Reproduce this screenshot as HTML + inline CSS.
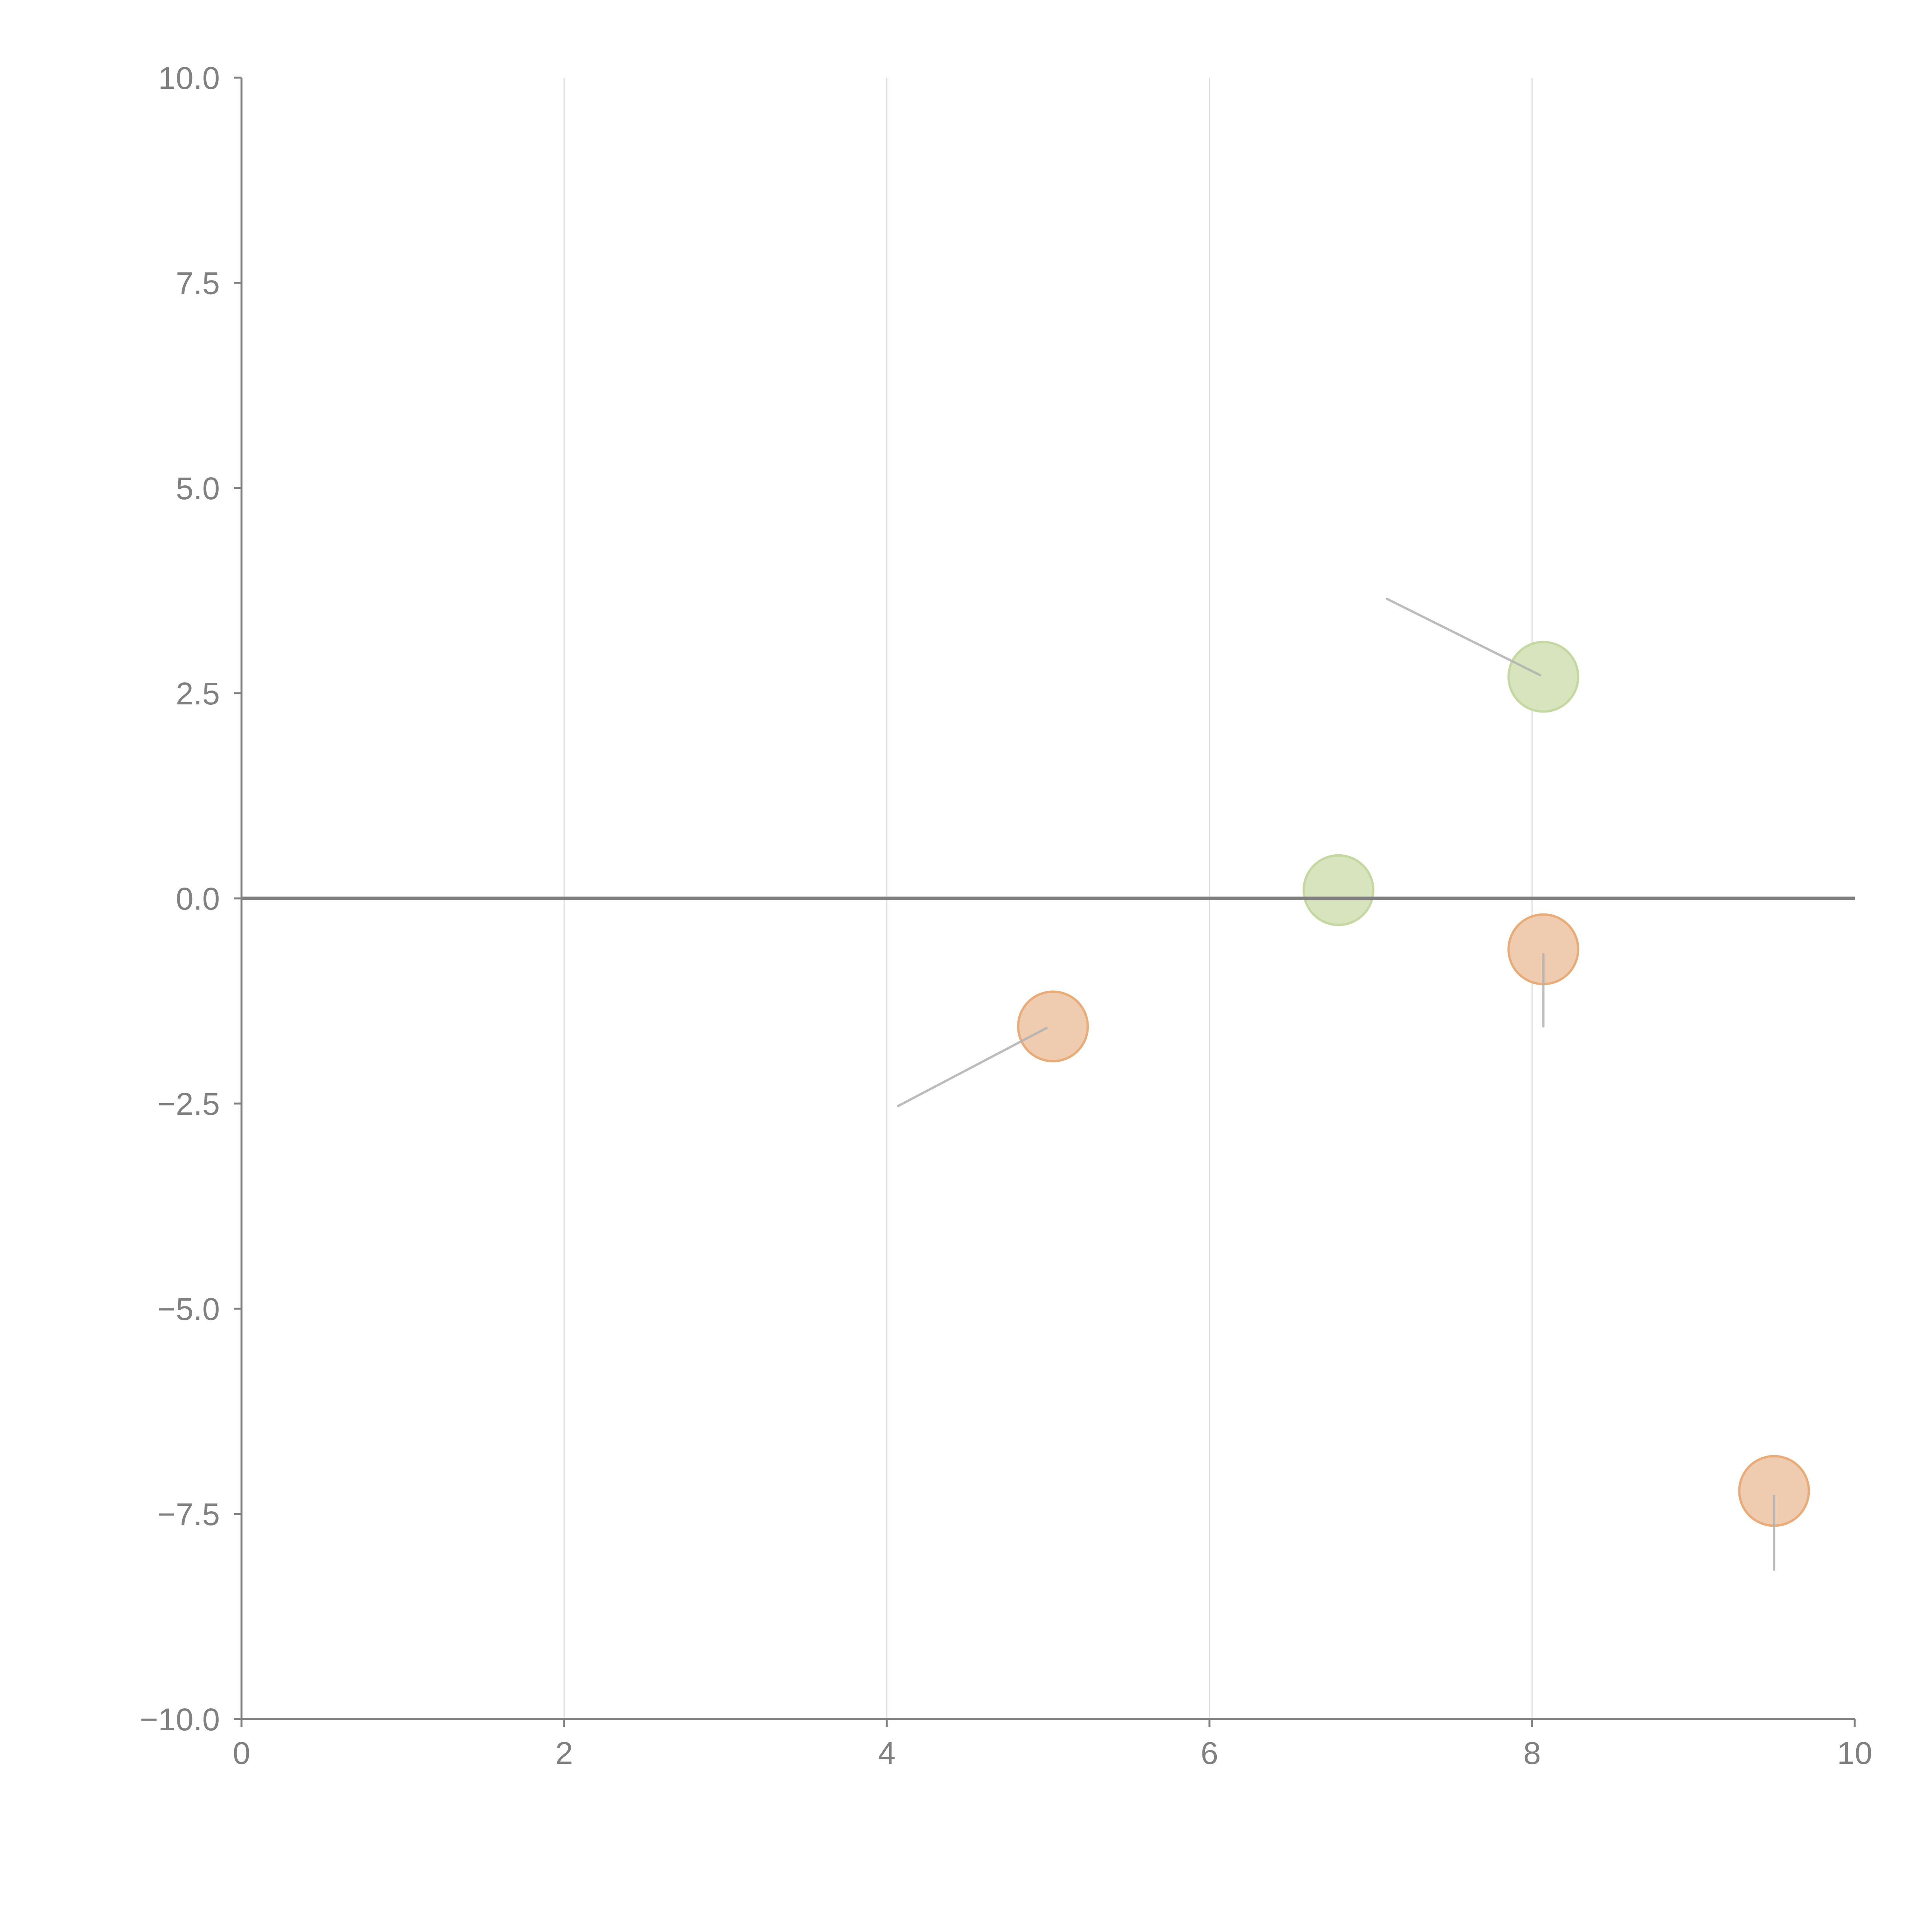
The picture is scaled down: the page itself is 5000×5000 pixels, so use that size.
<!DOCTYPE html>
<html><head><meta charset="utf-8"><style>
html,body{margin:0;padding:0;background:#fff;}
svg{display:block;font-family:"Liberation Sans",sans-serif;}
</style></head><body>
<svg id="chart" width="5000" height="5000" viewBox="0 0 5000 5000" xmlns="http://www.w3.org/2000/svg"></svg>
<script>
const xTicks=[0,2,4,6,8,10];
const yTicks=[10,7.5,5,2.5,0,-2.5,-5,-7.5,-10];
const yTickLabels=["10.0","7.5","5.0","2.5","0.0","\u22122.5","\u22125.0","\u22127.5","\u221210.0"];
const pointX=[8.07,6.8,5.03,8.07,9.5];
const pointY=[2.7,0.1,-1.56,-0.62,-7.22];
const pointGroup=["green","green","orange","orange","orange"];
const lineX1=[7.1,4.07,8.07,9.5];
const lineY1=[3.65,-2.53,-0.68,-7.28];
const lineX2=[8.05,4.99,8.07,9.5];
const lineY2=[2.72,-1.58,-1.56,-8.18];

const L=625,R=4800,T=201,B=4449;
const sx=v=>L+(v-0)/(10-0)*(R-L);
const sy=v=>B-(v+10)/20*(B-T);
const svg=document.getElementById('chart');
const NS='http://www.w3.org/2000/svg';
function mk(tag,attrs,parent){const e=document.createElementNS(NS,tag);for(const k in attrs)e.setAttribute(k,attrs[k]);(parent||svg).appendChild(e);return e;}

xTicks.forEach(v=>{if(v===0||v===10)return;
 const g=mk('line',{x1:sx(v),x2:sx(v),y1:T,y2:B,stroke:'#dcdcdc','stroke-width':3});
 
 
});
const ya=mk('line',{x1:L,x2:L,y1:T,y2:B,stroke:'#808080','stroke-width':5});


const xa=mk('line',{x1:L,x2:R,y1:B,y2:B,stroke:'#808080','stroke-width':5});



xTicks.forEach(v=>{
 const t=mk('line',{x1:sx(v),x2:sx(v),y1:B,y2:B+20,stroke:'#808080','stroke-width':5});
 
 
 const lb=mk('text',{x:sx(v),y:B+116,'text-anchor':'middle','font-size':82,fill:'#808080'});
 lb.textContent=String(v);
 
 
});
yTicks.forEach((v,i)=>{
 const t=mk('line',{x1:L-20,x2:L,y1:sy(v),y2:sy(v),stroke:'#808080','stroke-width':5});
 
 
 const lb=mk('text',{x:L-56,y:sy(v)+29,'text-anchor':'end','font-size':82,fill:'#808080'});
 lb.textContent=yTickLabels[i];
 
 
});

const fills={green:'#d8e4be',orange:'#efccaf'};
const strokes={green:'#c5d8a2',orange:'#e9ac78'};
pointX.forEach((x,i)=>{
 const c=mk('circle',{cx:sx(x),cy:sy(pointY[i]),r:90,fill:fills[pointGroup[i]],stroke:strokes[pointGroup[i]],'stroke-width':6});
 
 
});
const zl=mk('line',{x1:L,x2:R,y1:sy(0),y2:sy(0),stroke:'#808080','stroke-width':9});


lineX1.forEach((x,i)=>{
 const l=mk('line',{x1:sx(x),y1:sy(lineY1[i]),x2:sx(lineX2[i]),y2:sy(lineY2[i]),stroke:'#b0b0b0','stroke-opacity':0.85,'stroke-width':6,'stroke-linecap':'round'});
 
 
});
</script>
</body></html>
